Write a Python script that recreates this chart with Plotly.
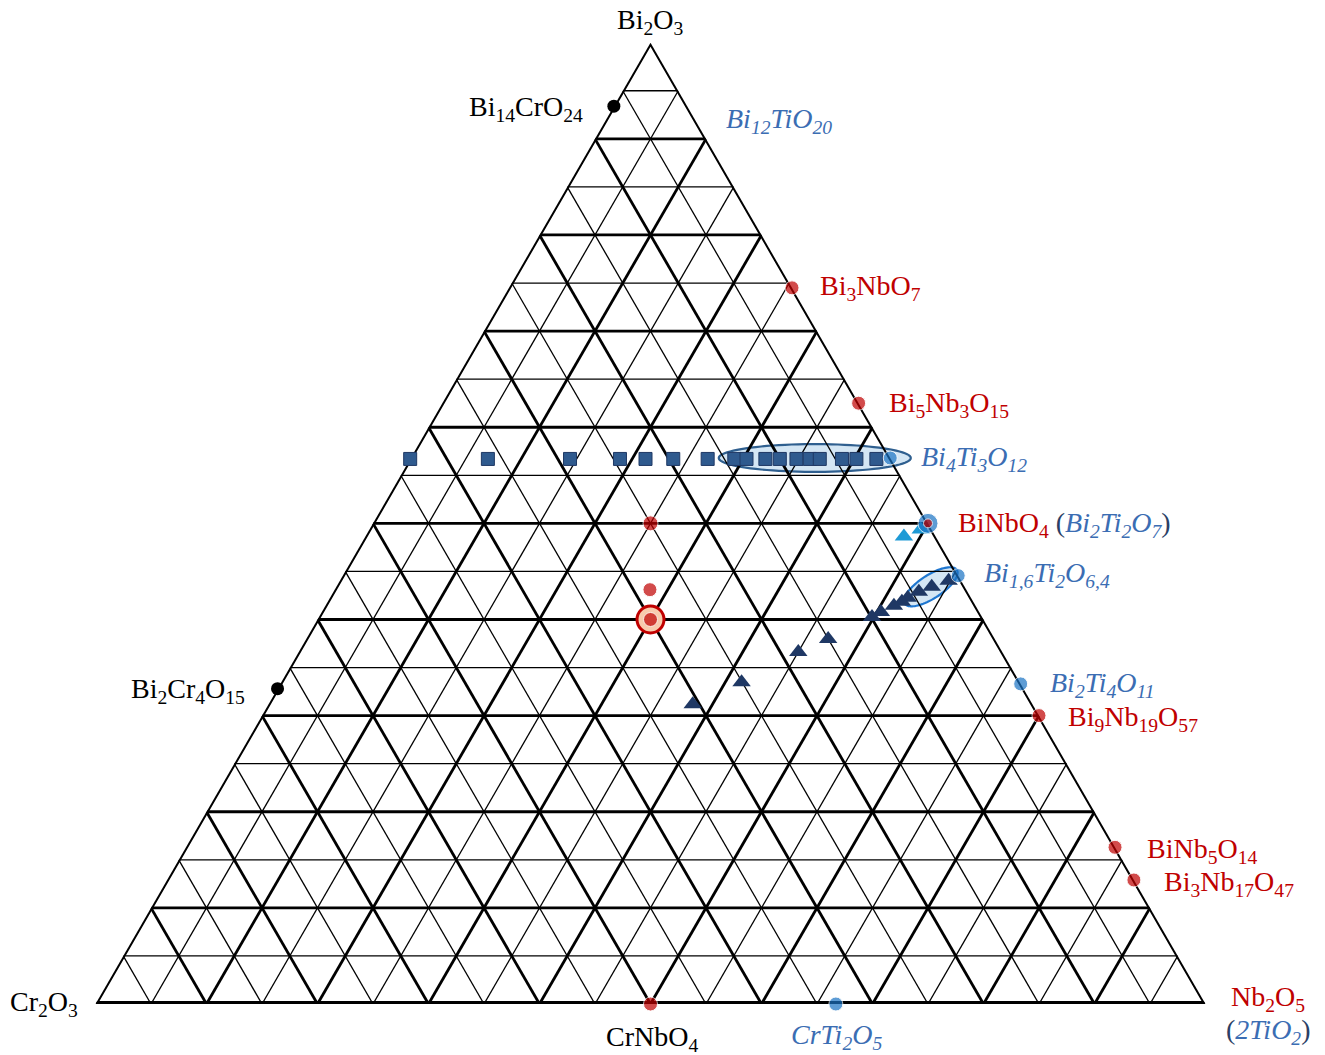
# Diagrama ternário Bi2O3 - Cr2O3 - Nb2O5 (2TiO2)

# %% Bibliotecas
import numpy as np
import plotly.graph_objects as go

# %% Dados (a = Bi2O3, b = Cr2O3, c = Nb2O5 / 2TiO2), frações molares

# compostos Bi-Nb-O e Cr-Nb-O (vermelho)
red_names = ['Bi<sub>3</sub>NbO<sub>7</sub>', 'Bi<sub>5</sub>Nb<sub>3</sub>O<sub>15</sub>',
             'BiNbO<sub>4</sub> <span style="color:#2b3f66">(</span><i style="color:#3b6db3">Bi<sub>2</sub>Ti<sub>2</sub>O<sub>7</sub></i><span style="color:#2b3f66">)</span>',
             'Bi<sub>9</sub>Nb<sub>19</sub>O<sub>57</sub>', 'BiNb<sub>5</sub>O<sub>14</sub>',
             'Bi<sub>3</sub>Nb<sub>17</sub>O<sub>47</sub>', 'CrNbO<sub>4</sub>']
red_a = [0.745, 0.625, 0.50, 0.300, 0.163, 0.129, 0.0]
red_c = [0.255, 0.375, 0.50, 0.700, 0.837, 0.871, 0.5]

# compostos Bi-Ti-O e Cr-Ti-O (azul)
blue_names = ['Bi<sub>12</sub>TiO<sub>20</sub>', 'Bi<sub>4</sub>Ti<sub>3</sub>O<sub>12</sub>', '',
              'Bi<sub>1,6</sub>Ti<sub>2</sub>O<sub>6,4</sub>', 'Bi<sub>2</sub>Ti<sub>4</sub>O<sub>11</sub>',
              'CrTi<sub>2</sub>O<sub>5</sub>']
blue_a = [0.920, 0.568, 0.50, 0.4456, 0.333, 0.0]
blue_c = [0.080, 0.432, 0.50, 0.5544, 0.667, 0.667]

# compostos Bi-Cr-O (preto)
black_names = ['Bi<sub>14</sub>CrO<sub>24</sub>', 'Bi<sub>2</sub>Cr<sub>4</sub>O<sub>15</sub>']
black_a = [0.934, 0.328]
black_c = [0.0, 0.0]

# composições sintetizadas (vermelho, interior)
synth_a = [0.50, 0.431]
synth_c = [0.25, 0.284]
main_a = [0.40]
main_c = [0.30]

# série de quadrados (linha Bi4Ti3O12)
sq_c = [0.0, 0.070, 0.144, 0.189, 0.212, 0.237, 0.268, 0.292, 0.303, 0.320,
        0.333, 0.348, 0.360, 0.369, 0.389, 0.402, 0.420]
sq_a = [0.567] * len(sq_c)

# triângulos escuros
tri_a = [0.4404, 0.4341, 0.4289, 0.4226, 0.4184, 0.4142, 0.4079, 0.4027,
         0.3797, 0.3661, 0.3347, 0.3117]
tri_c = [0.5484, 0.5363, 0.5273, 0.5205, 0.5173, 0.5122, 0.5036, 0.4982,
         0.4702, 0.4501, 0.4147, 0.3822]

# triângulos claros
ltri_a = [0.4864, 0.4937]
ltri_c = [0.4851, 0.4966]

# elipses: centro (a, c), semi-eixos (fração do lado), ângulo
ell_sq = dict(a=0.568, c=0.3640, rx=0.0865, ry=0.0125, ang=0)
ell_tri = dict(a=0.434, c=0.5355, rx=0.028, ry=0.0105, ang=33)

# %% Geometria da figura
FW, FH = 1325, 1055
W = 1110.0
H = W * np.sqrt(3) / 2
X_LEFT = 650.5 - W / 2
Y_BASE = 1004.0

FONT = 'Liberation Serif'
FSIZE = 28
RED = '#c00000'
BLUE = '#1a73c4'
BLUE_TXT = '#3b6db3'


def bvals(a, c):
    return [1 - x - y for x, y in zip(a, c)]


def to_paper(a, c):
    xp = X_LEFT + (c + a / 2) * W
    yp = Y_BASE - a * H
    return xp / FW, 1 - yp / FH


def ellipse_path(e, n=90):
    s = np.sqrt(3) / 2
    t = np.linspace(0, 2 * np.pi, n, endpoint=False)
    th = np.radians(e['ang'])
    x0 = e['c'] + e['a'] / 2
    y0 = e['a'] * s
    x = x0 + e['rx'] * np.cos(t) * np.cos(th) - e['ry'] * np.sin(t) * np.sin(th)
    y = y0 + e['rx'] * np.cos(t) * np.sin(th) + e['ry'] * np.sin(t) * np.cos(th)
    a = y / s
    c = x - a / 2
    pts = [to_paper(ai, ci) for ai, ci in zip(a, c)]
    return 'M ' + ' L '.join(f'{px:.5f},{py:.5f}' for px, py in pts) + ' Z'


fig = go.Figure()

# %% Grade
thin = {'a': [], 'b': [], 'c': []}
thick = {'a': [], 'b': [], 'c': []}
for i in range(1, 20):
    k = i / 20
    tgt = thick if i % 2 == 0 else thin
    for seg in [((k, 1 - k, 0), (k, 0, 1 - k)),
                ((1 - k, k, 0), (0, k, 1 - k)),
                ((1 - k, 0, k), (0, 1 - k, k))]:
        for p in seg:
            tgt['a'].append(p[0]); tgt['b'].append(p[1]); tgt['c'].append(p[2])
        tgt['a'].append(None); tgt['b'].append(None); tgt['c'].append(None)

fig.add_trace(go.Scatterternary(a=thin['a'], b=thin['b'], c=thin['c'], mode='lines',
                                line=dict(color='black', width=1.3), hoverinfo='skip'))
fig.add_trace(go.Scatterternary(a=thick['a'], b=thick['b'], c=thick['c'], mode='lines',
                                line=dict(color='black', width=2.8), hoverinfo='skip'))
fig.add_trace(go.Scatterternary(a=[0, 1, 0], b=[1, 0, 0], c=[0, 0, 1], mode='lines',
                                line=dict(color='black', width=4), cliponaxis=False,
                                hoverinfo='skip'))
fig.add_trace(go.Scatterternary(a=[0, 0], b=[1, 0], c=[0, 1], mode='lines',
                                line=dict(color='black', width=6), cliponaxis=False,
                                hoverinfo='skip'))

# %% Elipses (formas abaixo dos traços, para não serem cortadas na borda)
shapes = [
    dict(type='path', xref='paper', yref='paper', layer='below', path=ellipse_path(ell_sq),
         fillcolor='#d4e6f4', line=dict(color='#2f5f8f', width=2.2)),
    dict(type='path', xref='paper', yref='paper', layer='below', path=ellipse_path(ell_tri),
         fillcolor='#d4e6f4', line=dict(color='#1f77d0', width=2.2)),
]

# %% Pontos experimentais
fig.add_trace(go.Scatterternary(a=sq_a, b=bvals(sq_a, sq_c), c=sq_c, mode='markers',
                                marker=dict(symbol='square', size=13, color='#2f5a8e',
                                            line=dict(color='#1f3864', width=1)),
                                cliponaxis=False))
fig.add_trace(go.Scatterternary(a=ltri_a, b=bvals(ltri_a, ltri_c), c=ltri_c, mode='markers',
                                marker=dict(symbol='triangle-up', size=16, color='#1e9ad6'),
                                cliponaxis=False))
fig.add_trace(go.Scatterternary(a=tri_a, b=bvals(tri_a, tri_c), c=tri_c, mode='markers',
                                marker=dict(symbol='triangle-up', size=16, color='#1f3864'),
                                cliponaxis=False))

# %% Compostos conhecidos
fig.add_trace(go.Scatterternary(a=black_a, b=bvals(black_a, black_c), c=black_c, mode='markers',
                                marker=dict(size=13, color='black'), cliponaxis=False))
fig.add_trace(go.Scatterternary(a=blue_a, b=bvals(blue_a, blue_c), c=blue_c, mode='markers',
                                marker=dict(size=[14, 14, 20, 14, 14, 14], color=BLUE),
                                cliponaxis=False))
fig.add_trace(go.Scatterternary(a=main_a, b=bvals(main_a, main_c), c=main_c, mode='markers',
                                marker=dict(size=27, color='#f8cbad',
                                            line=dict(color=RED, width=3)),
                                cliponaxis=False))
fig.add_trace(go.Scatterternary(a=red_a + synth_a + main_a,
                                b=bvals(red_a + synth_a + main_a, red_c + synth_c + main_c),
                                c=red_c + synth_c + main_c, mode='markers',
                                marker=dict(size=[14, 14, 9, 14, 14, 14, 14, 15, 14, 14],
                                            color=RED),
                                cliponaxis=False))

# %% Rótulos
annots = []


def label(text, a, c, color, xs, ys, anchor='left', italic=False):
    x, y = to_paper(a, c)
    if italic:
        text = f'<i>{text}</i>'
    annots.append(dict(x=x, y=y, xref='paper', yref='paper', text=text, showarrow=False,
                       xanchor=anchor, yanchor='middle', xshift=xs, yshift=ys,
                       font=dict(family=FONT, size=FSIZE, color=color)))


red_shift = [(26, 0), (28, -1), (28, -1), (27, -3), (30, -3), (28, -4), (1, -34)]
for n, a, c, (xs, ys) in zip(red_names, red_a, red_c, red_shift):
    anchor = 'center' if a == 0 else 'left'
    col = 'black' if n.startswith('Cr') else RED
    label(n, a, c, col, xs, ys, anchor)

blue_shift = [(29, -1), (29, -1), (0, 0), (24, 1), (27, -1), (1, -32)]
for n, a, c, (xs, ys) in zip(blue_names, blue_a, blue_c, blue_shift):
    if n:
        anchor = 'center' if a == 0 else 'left'
        label(n, a, c, BLUE_TXT, xs, ys, anchor, italic=True)

black_shift = [(-29, -2), (-31, -2)]
for n, a, c, (xs, ys) in zip(black_names, black_a, black_c, black_shift):
    label(n, a, c, 'black', xs, ys, 'right')

# vértices
label('Bi<sub>2</sub>O<sub>3</sub>', 1, 0, 'black', 0, 21, 'center')
label('Cr<sub>2</sub>O<sub>3</sub>', 0, 0, 'black', -16, 0, 'right')
label('Nb<sub>2</sub>O<sub>5</sub>', 0, 1, RED, 62, 5, 'center')
label('<span style="color:#2b3f66">(</span><i style="color:#3b6db3">2TiO<sub>2</sub></i>'
      '<span style="color:#2b3f66">)</span>', 0, 1, RED, 62, -27, 'center')

# %% Layout
x0, _ = to_paper(0, 0)
x1, _ = to_paper(0, 1)
_, y0 = to_paper(0, 0)
_, y1 = to_paper(1, 0)
hidden = dict(showgrid=False, showline=False, showticklabels=False, ticks='',
              title=dict(text=''))

fig.update_layout(
    width=FW, height=FH,
    margin=dict(l=0, r=0, t=0, b=0),
    paper_bgcolor='white',
    showlegend=False,
    annotations=annots,
    shapes=shapes,
    ternary=dict(sum=1, bgcolor='rgba(0,0,0,0)',
                 domain=dict(x=[x0, x1], y=[y0, y1]),
                 aaxis=hidden, baxis=hidden, caxis=hidden),
)

fig.write_html('out.html', config={'displayModeBar': False},
               post_script="document.body.style.margin='0';")
